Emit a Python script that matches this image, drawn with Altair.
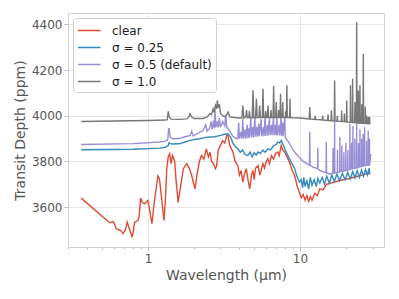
import altair as alt
import pandas as pd

# ---- values: (wavelength in micron, transit depth in ppm) ----
clear_pts = [
    (0.364, 3639), (0.56, 3531), (0.588, 3537), (0.60, 3530), (0.619, 3505), (0.667, 3496), (0.685, 3483),
    (0.71, 3500), (0.731, 3534), (0.75, 3510), (0.785, 3471), (0.80, 3490), (0.817, 3534), (0.86, 3541),
    (0.875, 3560), (0.895, 3639), (0.92, 3620), (0.951, 3614), (1.0, 3629), (1.03, 3580), (1.062, 3527),
    (1.10, 3620), (1.163, 3736), (1.19, 3724), (1.23, 3640), (1.274, 3541), (1.30, 3620), (1.33, 3768),
    (1.36, 3820), (1.39, 3833), (1.42, 3790), (1.45, 3826), (1.5, 3800), (1.53, 3720), (1.58, 3620),
    (1.63, 3680), (1.71, 3768), (1.8, 3790), (1.87, 3770), (1.94, 3738), (2.04, 3680), (2.1, 3740),
    (2.18, 3800), (2.25, 3826), (2.33, 3810), (2.42, 3855), (2.5, 3820), (2.56, 3840), (2.62, 3800),
    (2.7, 3790), (2.78, 3768), (2.83, 3780), (2.9, 3850), (3.0, 3870), (3.1, 3890), (3.2, 3880),
    (3.3, 3914), (3.36, 3914), (3.45, 3870), (3.62, 3841), (3.75, 3800), (3.9, 3782), (4.0, 3740),
    (4.1, 3760), (4.21, 3709), (4.3, 3740), (4.43, 3768), (4.55, 3720), (4.67, 3680), (4.8, 3740),
    (4.9, 3760), (5.0, 3720), (5.1, 3770), (5.3, 3782), (5.45, 3740), (5.56, 3760), (5.7, 3790),
    (5.85, 3770), (6.0, 3800), (6.15, 3812), (6.3, 3790), (6.5, 3825), (6.7, 3810), (6.9, 3835),
    (7.15, 3841), (7.3, 3825), (7.53, 3870), (7.7, 3850), (7.95, 3840), (8.33, 3812), (8.6, 3790),
    (8.9, 3760), (9.23, 3738), (9.6, 3690), (9.9, 3665), (10.2, 3640), (10.5, 3655), (10.8, 3630),
    (11.1, 3650), (11.4, 3625), (11.7, 3645), (12.0, 3630), (12.5, 3660), (13.0, 3650), (13.5, 3680),
    (14.2, 3675), (15.0, 3700), (16.0, 3705), (18.0, 3715), (21.0, 3725), (24.0, 3735), (27.5, 3745),
    (29.0, 3748)]

sigma025_pts = [
    (0.364, 3851), (0.8, 3853), (1.2, 3858), (1.30, 3862), (1.36, 3870), (1.38, 3882), (1.40, 3878),
    (1.45, 3876), (1.6, 3877), (1.75, 3885), (1.9, 3892), (2.05, 3897), (2.2, 3899), (2.4, 3905),
    (2.56, 3907), (2.75, 3908), (3.0, 3914), (3.15, 3918), (3.36, 3921), (3.5, 3905), (3.62, 3880),
    (3.75, 3865), (3.9, 3855), (4.05, 3840), (4.2, 3850), (4.35, 3830), (4.54, 3826), (4.7, 3840),
    (4.85, 3820), (5.0, 3838), (5.15, 3828), (5.3, 3841), (5.5, 3835), (5.7, 3850), (5.9, 3840),
    (6.15, 3855), (6.4, 3850), (6.7, 3868), (7.0, 3875), (7.15, 3885), (7.35, 3880), (7.53, 3892),
    (7.8, 3870), (8.0, 3850), (8.33, 3826), (8.7, 3800), (9.23, 3768), (9.6, 3730), (9.9, 3709),
    (10.2, 3720), (10.4, 3685), (10.6, 3730), (10.8, 3690), (11.1, 3715), (11.4, 3680), (11.7, 3730),
    (12.0, 3695), (12.4, 3720), (12.8, 3690), (13.1, 3725), (13.5, 3705), (14.0, 3730), (14.5, 3700),
    (15.0, 3735), (15.6, 3705), (16.2, 3740), (16.8, 3712), (17.5, 3745), (18.2, 3715), (19.0, 3748),
    (19.8, 3720), (20.6, 3752), (21.4, 3722), (22.2, 3755), (23.0, 3728), (23.8, 3760), (24.6, 3730),
    (25.4, 3762), (26.2, 3735), (27.0, 3765), (27.8, 3740), (28.5, 3770), (28.8, 3745)]

sigma05_pts = [
    (0.364, 3874), (0.8, 3878), (1.2, 3885), (1.3, 3889), (1.35, 3895), (1.37, 3946), (1.38, 3940),
    (1.40, 3905), (1.45, 3899), (1.6, 3900), (1.75, 3908), (1.9, 3914), (1.94, 3932), (1.98, 3912),
    (2.1, 3920), (2.2, 3928), (2.3, 3935), (2.4, 3960), (2.45, 3932), (2.55, 3945), (2.6, 3975),
    (2.65, 3940), (2.7, 3979), (2.74, 3945), (2.76, 4030), (2.8, 3950), (2.85, 3975), (2.9, 3948),
    (2.95, 3990), (3.0, 3950), (3.1, 3975), (3.2, 3955), (3.25, 4004), (3.3, 3950), (3.4, 3940),
    (3.5, 3925), (3.62, 3910), (3.8, 3900), (3.9, 3899), (3.95, 3970), (4.0, 3899), (4.1, 3930),
    (4.15, 3899), (4.2, 3985), (4.26, 3900), (4.35, 3940), (4.4, 3900), (4.5, 3960), (4.55, 3900),
    (4.6, 3945), (4.66, 3905), (4.75, 3990), (4.8, 3905), (4.9, 3950), (4.95, 3905), (5.05, 3995),
    (5.1, 3908), (5.2, 3950), (5.25, 3908), (5.35, 3965), (5.4, 3910), (5.55, 3985), (5.6, 3910),
    (5.75, 3950), (5.8, 3910), (5.9, 4000), (5.95, 3912), (6.1, 3960), (6.15, 3912), (6.3, 3990),
    (6.35, 3915), (6.5, 3960), (6.55, 3915), (6.7, 3995), (6.75, 3915), (6.9, 3960), (6.95, 3915),
    (7.05, 4000), (7.1, 3915), (7.3, 3960), (7.35, 3914), (7.5, 3990), (7.55, 3912), (7.7, 3970),
    (7.75, 3910), (7.95, 3995), (8.0, 3905), (8.2, 3895), (8.6, 3875), (9.0, 3850), (9.5, 3830),
    (10.0, 3815), (10.5, 3800), (11.1, 3790), (11.55, 3784), (11.6, 3930), (11.65, 3783), (12.2, 3775),
    (13.05, 3768), (13.1, 3860), (13.15, 3767), (13.5, 3760), (14.85, 3750), (14.9, 3885), (14.95, 3749),
    (15.7, 3745), (16.45, 3748), (16.5, 3860), (16.55, 3748), (16.85, 3750), (16.9, 3972), (16.95, 3750),
    (17.6, 3752), (17.65, 3850), (17.7, 3752), (18.25, 3754), (18.3, 3907), (18.35, 3755), (18.8, 3756),
    (18.85, 3870), (18.9, 3757), (19.4, 3758), (19.45, 3840), (19.5, 3758), (20.0, 3760), (20.05, 3880),
    (20.1, 3760), (20.6, 3762), (20.65, 3850), (20.7, 3762), (21.25, 3765), (21.3, 3965), (21.35, 3765),
    (21.8, 3767), (21.85, 3880), (21.9, 3767), (22.25, 3768), (22.3, 3955), (22.35, 3768), (22.9, 3770),
    (22.95, 3900), (23.0, 3770), (23.55, 3772), (23.6, 3965), (23.65, 3772), (24.2, 3774), (24.25, 3880),
    (24.3, 3774), (24.75, 3776), (24.8, 3940), (24.85, 3776), (25.4, 3778), (25.45, 3900), (25.5, 3778),
    (26.0, 3780), (26.05, 3920), (26.1, 3780), (26.55, 3781), (26.6, 3950), (26.65, 3781), (27.35, 3782),
    (27.4, 3890), (27.45, 3782), (28.05, 3783), (28.1, 3935), (28.15, 3783), (28.6, 3784), (28.65, 3900),
    (28.7, 3784), (29.2, 3833)]

sigma10_pts = [
    (0.364, 3975), (0.6, 3977), (1.0, 3979), (1.3, 3981), (1.34, 3983), (1.36, 4019), (1.38, 3995),
    (1.42, 3985), (1.6, 3984), (1.8, 3986), (1.86, 3995), (1.89, 4009), (1.94, 3995), (2.0, 3988),
    (2.3, 3988), (2.45, 3995), (2.56, 4010), (2.62, 4005), (2.68, 4030), (2.72, 4015), (2.78, 4045),
    (2.83, 4030), (2.86, 4067), (2.9, 4035), (2.95, 4050), (3.0, 4010), (3.1, 4000), (3.2, 3995),
    (3.3, 4005), (3.37, 4016), (3.45, 3995), (3.7, 3992), (3.95, 3990), (4.15, 3990), (4.21, 4045),
    (4.27, 3990), (4.4, 3995), (4.45, 4025), (4.5, 3991), (4.6, 3992), (4.65, 4020), (4.7, 3991),
    (4.85, 3991), (4.91, 4111), (4.97, 3991), (5.1, 3991), (5.17, 4074), (5.23, 3991), (5.37, 3992),
    (5.43, 4045), (5.49, 3992), (5.65, 3992), (5.71, 4118), (5.77, 3992), (5.9, 3992), (5.95, 4020),
    (6.0, 3992), (6.1, 3992), (6.16, 4045), (6.22, 3992), (6.4, 3992), (6.45, 4025), (6.5, 3992),
    (6.65, 3992), (6.71, 4130), (6.77, 3992), (6.92, 3992), (6.98, 4060), (7.04, 3992), (7.2, 3992),
    (7.25, 4025), (7.3, 3992), (7.4, 3992), (7.45, 4096), (7.5, 3992), (7.65, 3992), (7.7, 4060),
    (7.75, 3992), (8.0, 3992), (8.05, 4020), (8.1, 3992), (8.15, 3992), (8.2, 4133), (8.25, 3992),
    (8.55, 3992), (8.6, 4074), (8.65, 3992), (9.0, 3991), (10.0, 3990), (11.5, 3986), (11.6, 4038),
    (11.7, 3986), (12.5, 3984), (12.6, 4000), (12.7, 3984), (14.0, 3981), (14.1, 4000), (14.2, 3981),
    (15.2, 3979), (15.3, 4005), (15.4, 3979), (16.0, 3978), (16.1, 4023), (16.2, 3978), (16.8, 3977),
    (16.9, 4154), (17.0, 3977), (17.5, 3976), (17.6, 4000), (17.7, 3976), (18.7, 3975), (18.8, 4023),
    (18.9, 3975), (19.5, 3974), (19.6, 4010), (19.7, 3974), (20.2, 3973), (20.3, 4067), (20.4, 3973),
    (21.4, 3972), (21.5, 4133), (21.6, 3972), (22.1, 3971), (22.2, 4162), (22.3, 3971), (22.9, 3970),
    (23.0, 4060), (23.1, 3970), (23.5, 3969), (23.6, 4410), (23.7, 3969), (24.1, 3968), (24.2, 4111),
    (24.3, 3968), (24.7, 3968), (24.8, 4133), (24.9, 3968), (25.4, 3967), (25.5, 4050), (25.6, 3967),
    (26.0, 3967), (26.1, 4271), (26.2, 3967), (26.8, 3966), (26.9, 4040), (27.0, 3966), (27.3, 3966),
    (27.4, 4001), (27.5, 3966), (28.0, 3965), (28.1, 3995), (28.2, 3965), (28.6, 3965), (28.7, 3994),
    (28.8, 3965), (29.0, 3965)]

labels = ["clear", "σ = 0.25", "σ = 0.5 (default)", "σ = 1.0"]
colors = ["#E24A33", "#348ABD", "#988ED5", "#777777"]
x_ticks = [0.3, 0.4, 0.5, 0.6, 0.7, 0.8, 0.9, 1, 2, 3, 4, 5, 6, 7, 8, 9, 10, 20, 30]
y_ticks = [3600, 3800, 4000, 4200, 4400]

frames = []
for lab, pts in zip(labels, [clear_pts, sigma025_pts, sigma05_pts, sigma10_pts]):
    frames.append(pd.DataFrame({"wl": [p[0] for p in pts], "depth": [p[1] for p in pts], "model": lab}))
df = pd.concat(frames, ignore_index=True)

FONT = "DejaVu Sans"
major = "datum.value == 1 || datum.value == 10"

chart = alt.Chart(df, background="white").mark_line(strokeWidth=1.4).encode(
    x=alt.X("wl:Q",
            scale=alt.Scale(type="log", domain=[0.298, 35.7], nice=False),
            axis=alt.Axis(values=x_ticks, title="Wavelength (μm)",
                          labelExpr="(datum.value == 1 || datum.value == 10) ? datum.label : ''",
                          tickSize={"condition": {"test": major, "value": 4}, "value": 2},
                          gridOpacity={"condition": {"test": major, "value": 1}, "value": 0},
                          labelFlush=False, labelOverlap=False)),
    y=alt.Y("depth:Q",
            scale=alt.Scale(domain=[3425, 4450], nice=False, zero=False),
            axis=alt.Axis(values=y_ticks, format="d", title="Transit Depth (ppm)", tickSize=4)),
    color=alt.Color("model:N",
                    scale=alt.Scale(domain=labels, range=colors),
                    legend=alt.Legend(title=None, orient="top-left", offset=5,
                                      fillColor="white", strokeColor="#d0d0d0", cornerRadius=3,
                                      padding=4, rowPadding=2,
                                      symbolType="M-1,0H2", symbolSize=225, symbolStrokeWidth=1.5,
                                      labelFontSize=12, labelOffset=18, labelColor="#222",
                                      labelFont=FONT, labelLimit=200)),
    order=alt.Order("wl:Q"),
).properties(width=316, height=234).configure_view(
    stroke="#d3d3d3", strokeWidth=1
).configure_axis(
    domain=False, grid=True, gridColor="#e6e6e6", gridWidth=1,
    tickColor="#bbbbbb", labelColor="#555555", titleColor="#555555",
    labelFont=FONT, titleFont=FONT, labelFontSize=12, titleFontSize=14,
    titleFontWeight="normal", labelPadding=2, titlePadding=4
)

chart.save("out.html", embed_options={"renderer": "svg", "actions": False})
